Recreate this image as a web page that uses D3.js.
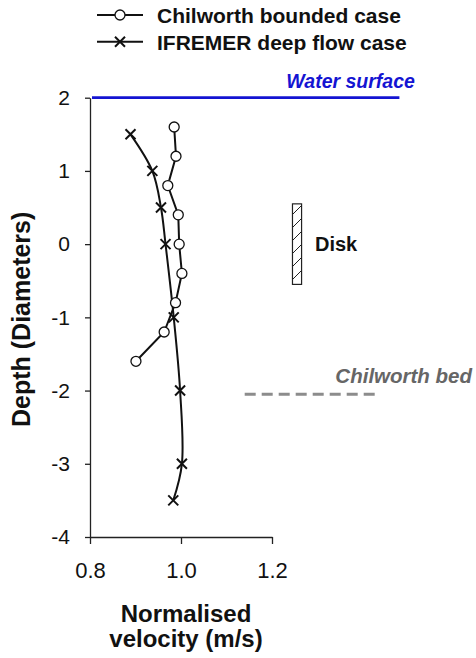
<!DOCTYPE html>
<html>
<head>
<meta charset="utf-8">
<script src="https://cdn.jsdelivr.net/npm/d3@7"></script>
<style>
  html, body { margin: 0; padding: 0; background: #fff; }
  svg { display: block; font-family: "Liberation Sans", Arial, sans-serif; }
</style>
</head>
<body>
<svg id="chart" width="476" height="658"></svg>
<script>
// ---- data ----
const chilDepth = [1.6, 1.2, 0.8, 0.4, 0, -0.4, -0.8, -1.2, -1.6];
const chilVel   = [0.985, 0.989, 0.971, 0.994, 0.996, 1.002, 0.988, 0.963, 0.901];
const ifrDepth  = [1.5, 1.0, 0.5, 0, -1, -2, -3, -3.5];
const ifrVel    = [0.889, 0.937, 0.956, 0.966, 0.984, 0.998, 1.002, 0.983];
const xTicks = [0.8, 1.0, 1.2];
const yTicks = [-4, -3, -2, -1, 0, 1, 2];
const seriesNames = ["Chilworth bounded case", "IFREMER deep flow case"];
const waterSurface = {depth: 2, from: 0.8, to: 1.48, label: "Water surface"};
const bed = {depth: -2.05, from: 1.14, to: 1.435, label: "Chilworth bed"};
const disk = {x0: 1.245, x1: 1.265, top: 0.55, bottom: -0.55, label: "Disk"};

// ---- scales ----
const x = d3.scaleLinear().domain([0.8, 1.2]).range([90, 272]);
const y = d3.scaleLinear().domain([-4, 2]).range([537, 97.7]);

const svg = d3.select("#chart");
const font = '"Liberation Sans", Arial, sans-serif';

// hatch pattern
const defs = svg.append("defs");
const pat = defs.append("pattern").attr("id", "hatch")
  .attr("patternUnits", "userSpaceOnUse").attr("width", 13).attr("height", 13);
pat.append("path").attr("d", "M0,13 L13,0 M-3,3 L3,-3 M10,16 L16,10")
  .attr("stroke", "#222").attr("stroke-width", 1);

// ---- axes ----
const yAxis = d3.axisLeft(y).tickValues(yTicks).tickSize(5).tickSizeOuter(0).tickPadding(15)
  .tickFormat(d => String(d));
const gy = svg.append("g").attr("transform", `translate(${x(0.8)},0)`).call(yAxis);
gy.selectAll("text").attr("font-size", 21).attr("font-family", font).attr("fill", "#111");
gy.selectAll("line, path").attr("stroke", "#222").attr("stroke-width", 1.3);

const xAxis = d3.axisBottom(x).tickValues(xTicks).tickSize(7).tickSizeOuter(0).tickPadding(18)
  .tickFormat(d3.format(".1f"));
const gx = svg.append("g").attr("transform", `translate(0,${y(-4)})`).call(xAxis);
gx.selectAll("text").attr("font-size", 22).attr("font-family", font).attr("fill", "#111");
gx.selectAll("line, path").attr("stroke", "#222").attr("stroke-width", 1.3);

// axis titles
svg.append("text").attr("transform", `translate(29.5,${(y(2)+y(-4))/2 + 2})rotate(-90)`)
  .attr("text-anchor", "middle").attr("font-size", 25).attr("font-weight", "bold")
  .attr("font-family", font).attr("fill", "#111").text("Depth (Diameters)");
const xt = svg.append("text").attr("text-anchor", "middle").attr("font-size", 24)
  .attr("font-weight", "bold").attr("font-family", font).attr("fill", "#111");
xt.append("tspan").attr("x", 186).attr("y", 621.7).text("Normalised");
xt.append("tspan").attr("x", 186).attr("y", 646.7).text("velocity (m/s)");

// ---- annotations ----
svg.append("line")
  .attr("x1", x(waterSurface.from) + 2).attr("x2", x(waterSurface.to))
  .attr("y1", y(waterSurface.depth)).attr("y2", y(waterSurface.depth))
  .attr("stroke", "#1414d2").attr("stroke-width", 2.8);
svg.append("text").attr("x", x(1.514)).attr("y", y(2.137))
  .attr("text-anchor", "end").attr("font-size", 19.5).attr("font-weight", "bold")
  .attr("font-style", "italic").attr("font-family", font).attr("fill", "#1414d2")
  .text(waterSurface.label);

svg.append("line")
  .attr("x1", x(bed.from)).attr("x2", x(bed.to))
  .attr("y1", y(bed.depth)).attr("y2", y(bed.depth))
  .attr("stroke", "#8c8c8c").attr("stroke-width", 3).attr("stroke-dasharray", "11,6");
svg.append("text").attr("x", x(1.6396)).attr("y", y(-1.893))
  .attr("text-anchor", "end").attr("font-size", 20.5).attr("font-weight", "bold")
  .attr("font-style", "italic").attr("font-family", font).attr("fill", "#666")
  .text(bed.label);

svg.append("rect")
  .attr("x", x(disk.x0)).attr("y", y(disk.top))
  .attr("width", x(disk.x1) - x(disk.x0)).attr("height", y(disk.bottom) - y(disk.top))
  .attr("fill", "url(#hatch)").attr("stroke", "#222").attr("stroke-width", 1.2);
svg.append("text").attr("x", x(1.2945)).attr("y", y(-0.09))
  .attr("font-size", 20).attr("font-weight", "bold").attr("font-family", font)
  .attr("fill", "#111").text(disk.label);

// ---- series ----
const chil = chilDepth.map((d, i) => ({d, v: chilVel[i]}));
const ifr = ifrDepth.map((d, i) => ({d, v: ifrVel[i]}));

svg.append("path").datum(chil)
  .attr("d", d3.line().x(p => x(p.v)).y(p => y(p.d)))
  .attr("fill", "none").attr("stroke", "#111").attr("stroke-width", 2);
svg.append("path").datum(ifr)
  .attr("d", d3.line().x(p => x(p.v)).y(p => y(p.d)).curve(d3.curveCatmullRom.alpha(0.5)))
  .attr("fill", "none").attr("stroke", "#111").attr("stroke-width", 2);

const crossPath = s => `M${-s},${-s}L${s},${s}M${-s},${s}L${s},${-s}`;
svg.append("g").selectAll("path").data(ifr).join("path")
  .attr("transform", p => `translate(${x(p.v)},${y(p.d)})`)
  .attr("d", crossPath(5)).attr("stroke", "#111").attr("stroke-width", 2).attr("fill", "none");
svg.append("g").selectAll("circle").data(chil).join("circle")
  .attr("cx", p => x(p.v)).attr("cy", p => y(p.d)).attr("r", 5)
  .attr("fill", "#fff").attr("stroke", "#111").attr("stroke-width", 1.3);

// ---- legend ----
const legY = [15, 41.7];
const leg = svg.append("g");
seriesNames.forEach((name, i) => {
  leg.append("line").attr("x1", 97).attr("x2", 143).attr("y1", legY[i]).attr("y2", legY[i])
    .attr("stroke", "#111").attr("stroke-width", 2);
  if (i === 0) {
    leg.append("circle").attr("cx", 120).attr("cy", legY[i]).attr("r", 5)
      .attr("fill", "#fff").attr("stroke", "#111").attr("stroke-width", 1.3);
  } else {
    leg.append("path").attr("transform", `translate(120,${legY[i]})`)
      .attr("d", crossPath(5)).attr("stroke", "#111").attr("stroke-width", 2);
  }
  leg.append("text").attr("x", 157).attr("y", legY[i] + 8.3)
    .attr("font-size", 21).attr("font-weight", "bold").attr("font-family", font)
    .attr("fill", "#111").text(name);
});
</script>
</body>
</html>
